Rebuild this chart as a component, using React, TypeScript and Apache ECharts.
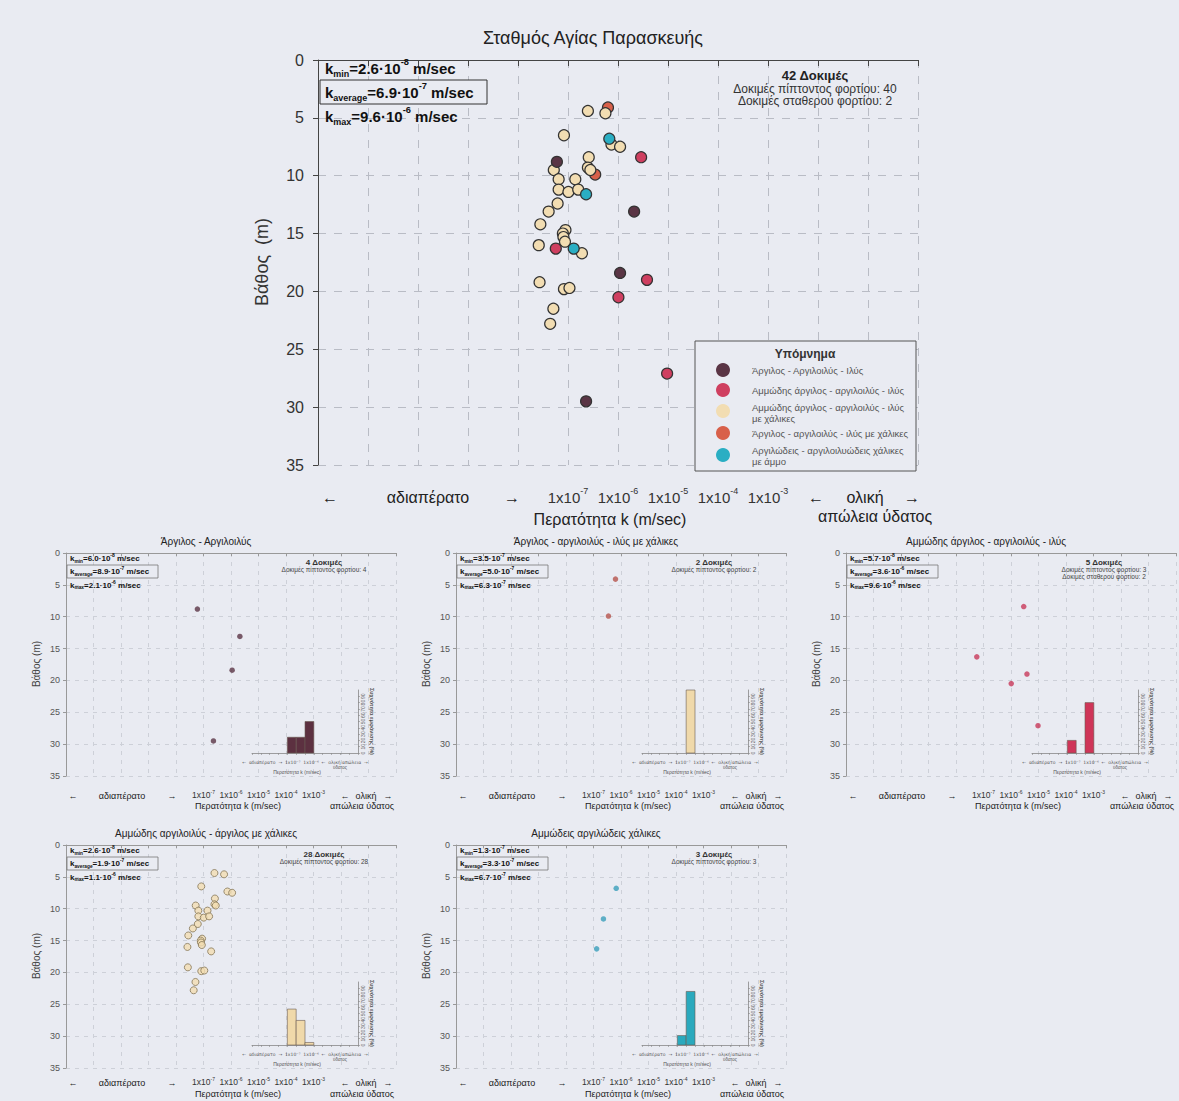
import React, { useEffect, useRef } from 'react';
import * as echarts from 'echarts';

const FONT = 'Liberation Sans, Arial, Helvetica, sans-serif';
const BG = '#e9ebf2';

// ---------------- data ----------------
const mainTitle = 'Σταθμός Αγίας Παρασκευής';
const labelledExponents = [-7, -6, -5, -4, -3];

// Άργιλος - Αργιλοιλύς - Ιλύς
const clayK = [6.0e-8, 2.1e-6, 1.1e-6, 2.3e-7];
const clayDepth = [8.8, 13.1, 18.4, 29.5];
// Αμμώδης άργιλος - αργιλοιλύς - ιλύς
const sandyClayK = [2.9e-6, 5.7e-8, 3.8e-6, 1.02e-6, 9.6e-6];
const sandyClayDepth = [8.4, 16.3, 19.0, 20.5, 27.1];
// Αμμώδης άργιλος - αργιλοιλύς - ιλύς με χάλικες
const sandyGravelK = [2.5e-7, 5.6e-7, 8.3e-8, 7.4e-7, 1.1e-6, 5.2e-8, 2.6e-7, 2.5e-7, 2.8e-7, 6.5e-8, 1.4e-7, 6.5e-8, 1.02e-7, 1.6e-7, 6.2e-8, 4.1e-8, 2.8e-8, 8.9e-8, 7.9e-8, 8.1e-8, 8.7e-8, 2.6e-8, 1.9e-7, 2.7e-8, 8.3e-8, 1.07e-7, 5.1e-8, 4.4e-8];
const sandyGravelDepth = [4.4, 4.6, 6.5, 7.3, 7.5, 9.5, 8.4, 9.3, 9.5, 10.3, 10.3, 11.2, 11.4, 11.2, 12.4, 13.1, 14.2, 14.7, 15.0, 15.3, 15.7, 16.0, 16.7, 19.2, 19.8, 19.7, 21.5, 22.8];
// Άργιλος - αργιλοιλύς - ιλύς με χάλικες
const gravelClayK = [6.3e-7, 3.5e-7];
const gravelClayDepth = [4.1, 9.9];
// Αργιλώδεις - αργιλοιλυώδεις χάλικες με άμμο
const clayeyGravelK = [6.7e-7, 2.3e-7, 1.3e-7];
const clayeyGravelDepth = [6.8, 11.6, 16.3];

// statistics [kmin, kaverage, kmax]
const allStats = [2.6e-8, 6.9e-7, 9.6e-6];
const clayStats = [6.0e-8, 8.9e-7, 2.1e-6];
const gravelClayStats = [3.5e-7, 5.0e-7, 6.3e-7];
const sandyClayStats = [5.7e-8, 3.6e-6, 9.6e-6];
const sandyGravelStats = [2.6e-8, 1.9e-7, 1.1e-6];
const clayeyGravelStats = [1.3e-7, 3.3e-7, 6.7e-7];

// histograms: lower bin edge (m/sec, one decade wide) and percentage
const clayHistFrom = [1e-8, 1e-7, 1e-6];
const clayHistPct = [25, 25, 50];
const gravelClayHistFrom = [1e-7];
const gravelClayHistPct = [100];
const sandyClayHistFrom = [1e-8, 1e-6];
const sandyClayHistPct = [20, 80];
const sandyGravelHistFrom = [1e-8, 1e-7, 1e-6];
const sandyGravelHistPct = [57, 39, 4];
const clayeyGravelHistFrom = [1e-8, 1e-7];
const clayeyGravelHistPct = [15, 85];

const legendNames = [
  'Άργιλος - Αργιλοιλύς - Ιλύς',
  'Αμμώδης άργιλος - αργιλοιλύς - ιλύς',
  'Αμμώδης άργιλος - αργιλοιλύς - ιλύς\nμε χάλικες',
  'Άργιλος - αργιλοιλύς - ιλύς με χάλικες',
  'Αργιλώδεις - αργιλοιλυώδεις χάλικες\nμε άμμο',
];
const COL = {
  clay: '#5a3545',
  sandyClay: '#cf3f60',
  sandyGravel: '#f2ddb2',
  gravelClay: '#d8604a',
  clayeyGravel: '#2aaec3',
};

// ---------------- helpers ----------------
function fmtK(v: number) {
  const e = Math.floor(Math.log10(v) + 1e-9);
  const m = (v / Math.pow(10, e)).toFixed(1);
  return { m, e };
}

function buildOption() {
  const grid: any[] = [];
  const xAxis: any[] = [];
  const yAxis: any[] = [];
  const series: any[] = [];
  const graphic: any[] = [];

  const txt = (x: number, y: number, text: string, fs: number, o: any = {}) => {
    graphic.push({
      type: 'text', x, y, z: 60, rotation: o.rot || 0,
      style: {
        text, fontSize: fs, fontFamily: o.font || FONT, fontWeight: o.bold ? 'bold' : 'normal',
        fill: o.color || '#222', align: o.align || 'center', textAlign: o.align || 'center',
        verticalAlign: 'middle', textVerticalAlign: 'middle', lineHeight: o.lh, rich: o.rich,
      },
    });
  };

  const addPlot = (L: number, T: number, Wd: number, Ht: number, big: boolean, lowRow = false) => {
    const gi = grid.length;
    grid.push({ left: L, top: T, width: Wd, height: Ht, show: false });
    const fs = big ? 15 : 8.5;
    xAxis.push({
      gridIndex: gi, type: 'log', logBase: 10, min: 1e-12, max: 1, interval: 1,
      axisLine: { show: true, lineStyle: { color: big ? '#444' : '#999', width: 1 } },
      axisTick: { show: true, length: big ? 6 : 3, lineStyle: { color: big ? '#444' : '#999' } },
      minorTick: { show: false },
      splitLine: { show: true, lineStyle: { type: big ? [8, 8] : [4, 5], color: big ? '#b9bcc5' : '#cdd0d8', width: 1 } },
      axisLabel: {
        show: true, margin: big ? 21 : lowRow ? 8 : 13, color: '#333', showMinLabel: true, showMaxLabel: true,
        formatter: (v: number) => {
          const e = Math.round(Math.log10(v));
          return labelledExponents.indexOf(e) >= 0 ? `{b|1x10}{s|${e}}` : '';
        },
        rich: {
          b: { fontSize: fs, fontFamily: FONT, color: '#333', lineHeight: big ? 22 : 12 },
          s: { fontSize: big ? 9 : 5, fontFamily: FONT, color: '#333', verticalAlign: 'top' },
        },
      },
    });
    yAxis.push({
      gridIndex: gi, type: 'value', inverse: true, min: 0, max: 35, interval: 5,
      axisLine: { show: true, lineStyle: { color: big ? '#444' : '#999' } },
      axisTick: { show: true, length: big ? 5 : 3, lineStyle: { color: big ? '#444' : '#999' } },
      splitLine: { show: true, lineStyle: { type: big ? [8, 8] : [4, 5], color: big ? '#b9bcc5' : '#cdd0d8' } },
      axisLabel: { fontSize: big ? 16 : 9, color: big ? '#333' : '#555', margin: big ? 14 : 6, fontFamily: FONT },
    });
    return gi;
  };

  const kText = (sub: string, v: number) => {
    const { m, e } = fmtK(v);
    return `{n|k}{b|${sub}}{n|=${m}·10}{p|${e}}{n| m/sec}`;
  };
  const kRich = (fs: number) => ({
    n: { fontSize: fs, fontWeight: 'bold', fontFamily: FONT, fill: '#111', lineHeight: fs * 1.35 },
    b: { fontSize: fs * 0.6, fontWeight: 'bold', fontFamily: FONT, fill: '#111', verticalAlign: 'bottom' },
    p: { fontSize: fs * 0.62, fontWeight: 'bold', fontFamily: FONT, fill: '#111', verticalAlign: 'top' },
  });

  const kBlock = (L: number, T: number, big: boolean, stats: number[]) => {
    const fs = big ? 15 : 8;
    if (big) {
      graphic.push({ type: 'rect', z: 55, shape: { x: L + 2, y: T + 20, width: 167, height: 24 }, style: { fill: BG, stroke: '#333', lineWidth: 1 } });
      txt(L + 7, T + 8, kText('min', stats[0]), fs, { align: 'left', rich: kRich(fs) });
      txt(L + 7, T + 32, kText('average', stats[1]), fs, { align: 'left', rich: kRich(fs) });
      txt(L + 7, T + 56, kText('max', stats[2]), fs, { align: 'left', rich: kRich(fs) });
    } else {
      graphic.push({ type: 'rect', z: 55, shape: { x: L + 1, y: T + 12, width: 91, height: 13 }, style: { fill: BG, stroke: '#777', lineWidth: 0.8 } });
      txt(L + 4, T + 5.5, kText('min', stats[0]), fs, { align: 'left', rich: kRich(fs) });
      txt(L + 4, T + 18.5, kText('average', stats[1]), fs, { align: 'left', rich: kRich(fs) });
      txt(L + 4, T + 32, kText('max', stats[2]), fs, { align: 'left', rich: kRich(fs) });
    }
  };

  const bottomText = (L: number, B: number, big: boolean, lowRow = false) => {
    if (big) {
      const y = B + 32, fs = 16;
      txt(L + 12, y, '←', fs); txt(L + 110, y, 'αδιαπέρατο', fs); txt(L + 194, y, '→', fs);
      txt(L + 498, y, '←', fs); txt(L + 547, y, 'ολική', fs); txt(L + 594, y, '→', fs);
      txt(L + 557, B + 51, 'απώλεια ύδατος', fs);
      txt(L + 292, B + 54, 'Περατότητα k (m/sec)', fs);
    } else {
      const y = B + (lowRow ? 15 : 20), y2 = B + (lowRow ? 26 : 30), fs = 9;
      txt(L + 7, y, '←', fs); txt(L + 56, y, 'αδιαπέρατο', fs); txt(L + 106, y, '→', fs);
      txt(L + 279, y, '←', fs); txt(L + 300, y, 'ολική', fs); txt(L + 322, y, '→', fs);
      txt(L + 296, y2, 'απώλεια ύδατος', fs);
      txt(L + 172, y2, 'Περατότητα k (m/sec)', fs);
    }
  };

  // ---------------- main panel ----------------
  const mL = 318, mT = 60, mW = 600, mH = 405;
  const mg = addPlot(mL, mT, mW, mH, true);
  txt(593, 38, mainTitle, 18, { color: '#222' });
  txt(262, 262, 'Βάθος  (m)', 18, { rot: Math.PI / 2, color: '#333' });
  kBlock(mL, mT, true, allStats);
  txt(815, 75, '42 Δοκιμές', 13, { bold: true });
  txt(815, 89, 'Δοκιμές πίπτοντος φορτίου: 40', 12, { color: '#333' });
  txt(815, 101, 'Δοκιμές σταθερού φορτίου: 2', 12, { color: '#333' });
  bottomText(mL, mT + mH, true);

  const mainSets = [
    { name: legendNames[3], k: gravelClayK, d: gravelClayDepth, c: COL.gravelClay },
    { name: legendNames[2], k: sandyGravelK, d: sandyGravelDepth, c: COL.sandyGravel },
    { name: legendNames[0], k: clayK, d: clayDepth, c: COL.clay },
    { name: legendNames[1], k: sandyClayK, d: sandyClayDepth, c: COL.sandyClay },
    { name: legendNames[4], k: clayeyGravelK, d: clayeyGravelDepth, c: COL.clayeyGravel },
  ];
  mainSets.forEach((s) => {
    series.push({
      type: 'scatter', name: s.name, xAxisIndex: mg, yAxisIndex: mg, symbolSize: 11, z: 5,
      itemStyle: { color: s.c, borderColor: '#333', borderWidth: 1.2, opacity: 1 },
      data: s.k.map((v, i) => [v, s.d[i]]),
    });
  });

  // legend box
  graphic.push({ type: 'rect', z: 55, shape: { x: 695, y: 341, width: 221, height: 130 }, style: { fill: BG, stroke: '#555', lineWidth: 1 } });
  txt(805, 354, 'Υπόμνημα', 12, { bold: true, color: '#333' });
  const legCols = [COL.clay, COL.sandyClay, COL.sandyGravel, COL.gravelClay, COL.clayeyGravel];
  const legY = [370, 390, 411, 433, 455];
  const legTY = [370, 390, 413, 433, 456];
  legendNames.forEach((n, i) => {
    graphic.push({ type: 'circle', z: 58, shape: { cx: 723, cy: legY[i], r: 7 }, style: { fill: legCols[i] } });
    txt(752, legTY[i], n, 9.5, { align: 'left', color: '#555', lh: 11 });
  });

  // ---------------- sub panels ----------------
  const sW = 330, sH = 223;
  const panels = [
    { L: 66, T: 553, title: 'Άργιλος - Αργιλοιλύς', stats: clayStats, n: '4 Δοκιμές', lines: ['Δοκιμές πίπτοντος φορτίου: 4'],
      k: clayK, d: clayDepth, c: COL.clay, ring: false, hf: clayHistFrom, hp: clayHistPct, hc: '#5c3040' },
    { L: 456, T: 553, title: 'Άργιλος - αργιλοιλύς - ιλύς με χάλικες', stats: gravelClayStats, n: '2 Δοκιμές', lines: ['Δοκιμές πίπτοντος φορτίου: 2'],
      k: gravelClayK, d: gravelClayDepth, c: '#b5544c', ring: false, hf: gravelClayHistFrom, hp: gravelClayHistPct, hc: '#f0d9aa' },
    { L: 846, T: 553, title: 'Αμμώδης άργιλος - αργιλοιλύς - ιλύς', stats: sandyClayStats, n: '5 Δοκιμές', lines: ['Δοκιμές πίπτοντος φορτίου: 3', 'Δοκιμές σταθερού φορτίου: 2'],
      k: sandyClayK, d: sandyClayDepth, c: '#c83a5a', ring: false, hf: sandyClayHistFrom, hp: sandyClayHistPct, hc: '#cf3558' },
    { L: 66, T: 845, title: 'Αμμώδης αργιλοιλύς - άργιλος με χάλικες', stats: sandyGravelStats, n: '28 Δοκιμές', lines: ['Δοκιμές πίπτοντος φορτίου: 28'],
      k: sandyGravelK, d: sandyGravelDepth, c: COL.sandyGravel, ring: true, hf: sandyGravelHistFrom, hp: sandyGravelHistPct, hc: '#f0d9aa' },
    { L: 456, T: 845, title: 'Αμμώδεις αργιλώδεις χάλικες', stats: clayeyGravelStats, n: '3 Δοκιμές', lines: ['Δοκιμές πίπτοντος φορτίου: 3'],
      k: clayeyGravelK, d: clayeyGravelDepth, c: '#3a9fba', ring: false, hf: clayeyGravelHistFrom, hp: clayeyGravelHistPct, hc: '#2aa9bd' },
  ];

  panels.forEach((p) => {
    const low = p.T > 700;
    const gi = addPlot(p.L, p.T, sW, sH, false, low);
    txt(p.L + 140, p.T - 12, p.title, 10, { color: '#222' });
    txt(p.L - 30, p.T + 111, 'Βάθος (m)', 10, { rot: Math.PI / 2, color: '#444' });
    kBlock(p.L, p.T, false, p.stats);
    txt(p.L + 258, p.T + 9.5, p.n, 8, { bold: true, color: '#333' });
    p.lines.forEach((l, i) => txt(p.L + 258, p.T + 16.5 + i * 6.5, l, 6.5, { color: '#444' }));
    bottomText(p.L, p.T + sH, false, low);
    series.push({
      type: 'scatter', xAxisIndex: gi, yAxisIndex: gi, symbolSize: p.ring ? 7 : 5.5, z: 5,
      itemStyle: p.ring ? { color: p.c, borderColor: '#857556', borderWidth: 1 } : { color: p.c },
      data: p.k.map((v, i) => [v, p.d[i]]),
    });

    // inset histogram
    const iL = p.L + 186, iT = p.T + 137, iW = 106, iH = 63;
    const hi = grid.length;
    grid.push({ left: iL, top: iT, width: iW, height: iH, show: false });
    xAxis.push({
      gridIndex: hi, type: 'log', logBase: 10, min: 1e-12, max: 1, interval: 1,
      axisLine: { show: true, lineStyle: { color: '#888', width: 0.8 } },
      axisTick: { show: true, length: 2, lineStyle: { color: '#888', width: 0.6 } },
      axisLabel: { show: false }, splitLine: { show: false },
    });
    yAxis.push({
      gridIndex: hi, type: 'value', position: 'right', min: 0, max: 100, interval: 10,
      axisLine: { show: true, lineStyle: { color: '#888', width: 0.8 } },
      axisTick: { show: true, length: 2, lineStyle: { color: '#888', width: 0.6 } },
      splitLine: { show: false },
      axisLabel: { fontSize: 5, rotate: 90, color: '#666', margin: 2, fontFamily: FONT },
      name: 'Συχνότητα εμφάνισης (%)', nameLocation: 'middle', nameRotate: -90, nameGap: 11,
      nameTextStyle: { fontSize: 5.5, fontWeight: 'bold', color: '#555', fontFamily: FONT },
    });
    const hc = p.hc;
    series.push({
      type: 'custom', xAxisIndex: hi, yAxisIndex: hi, z: 6,
      encode: { x: [0, 1], y: 2 },
      data: p.hf.map((f, i) => [f, f * 10, p.hp[i]]),
      renderItem: (params: any, api: any) => {
        const p0 = api.coord([api.value(0), api.value(2)]);
        const p1 = api.coord([api.value(1), 0]);
        return {
          type: 'rect',
          shape: { x: p0[0], y: p0[1], width: p1[0] - p0[0], height: p1[1] - p0[1] },
          style: { fill: hc, stroke: '#6a5a50', lineWidth: 0.6 },
        };
      },
    });
    txt(iL + iW / 2, iT + iH + 9, '←  αδιαπέρατο  →  1x10⁻⁷  1x10⁻⁶  ←  ολική απώλεια  →', 4.5, { color: '#555', font: 'DejaVu Sans' });
    txt(iL + iW - 18, iT + iH + 14, 'ύδατος', 4.5, { color: '#555' });
    txt(iL + iW / 2 - 8, iT + iH + 19, 'Περατότητα k (m/sec)', 5, { color: '#555' });
  });

  return {
    animation: false,
    backgroundColor: BG,
    textStyle: { fontFamily: FONT },
    grid, xAxis, yAxis, series, graphic,
  };
}

const App = () => {
  const ref = useRef<HTMLDivElement>(null);
  useEffect(() => {
    const chart = echarts.init(ref.current as HTMLDivElement, null, { renderer: 'svg' });
    chart.setOption(buildOption() as any);
    return () => chart.dispose();
  }, []);
  return <div ref={ref} style={{ position: 'absolute', left: 0, top: 0, width: 1179, height: 1101 }} />;
};

export default App;
